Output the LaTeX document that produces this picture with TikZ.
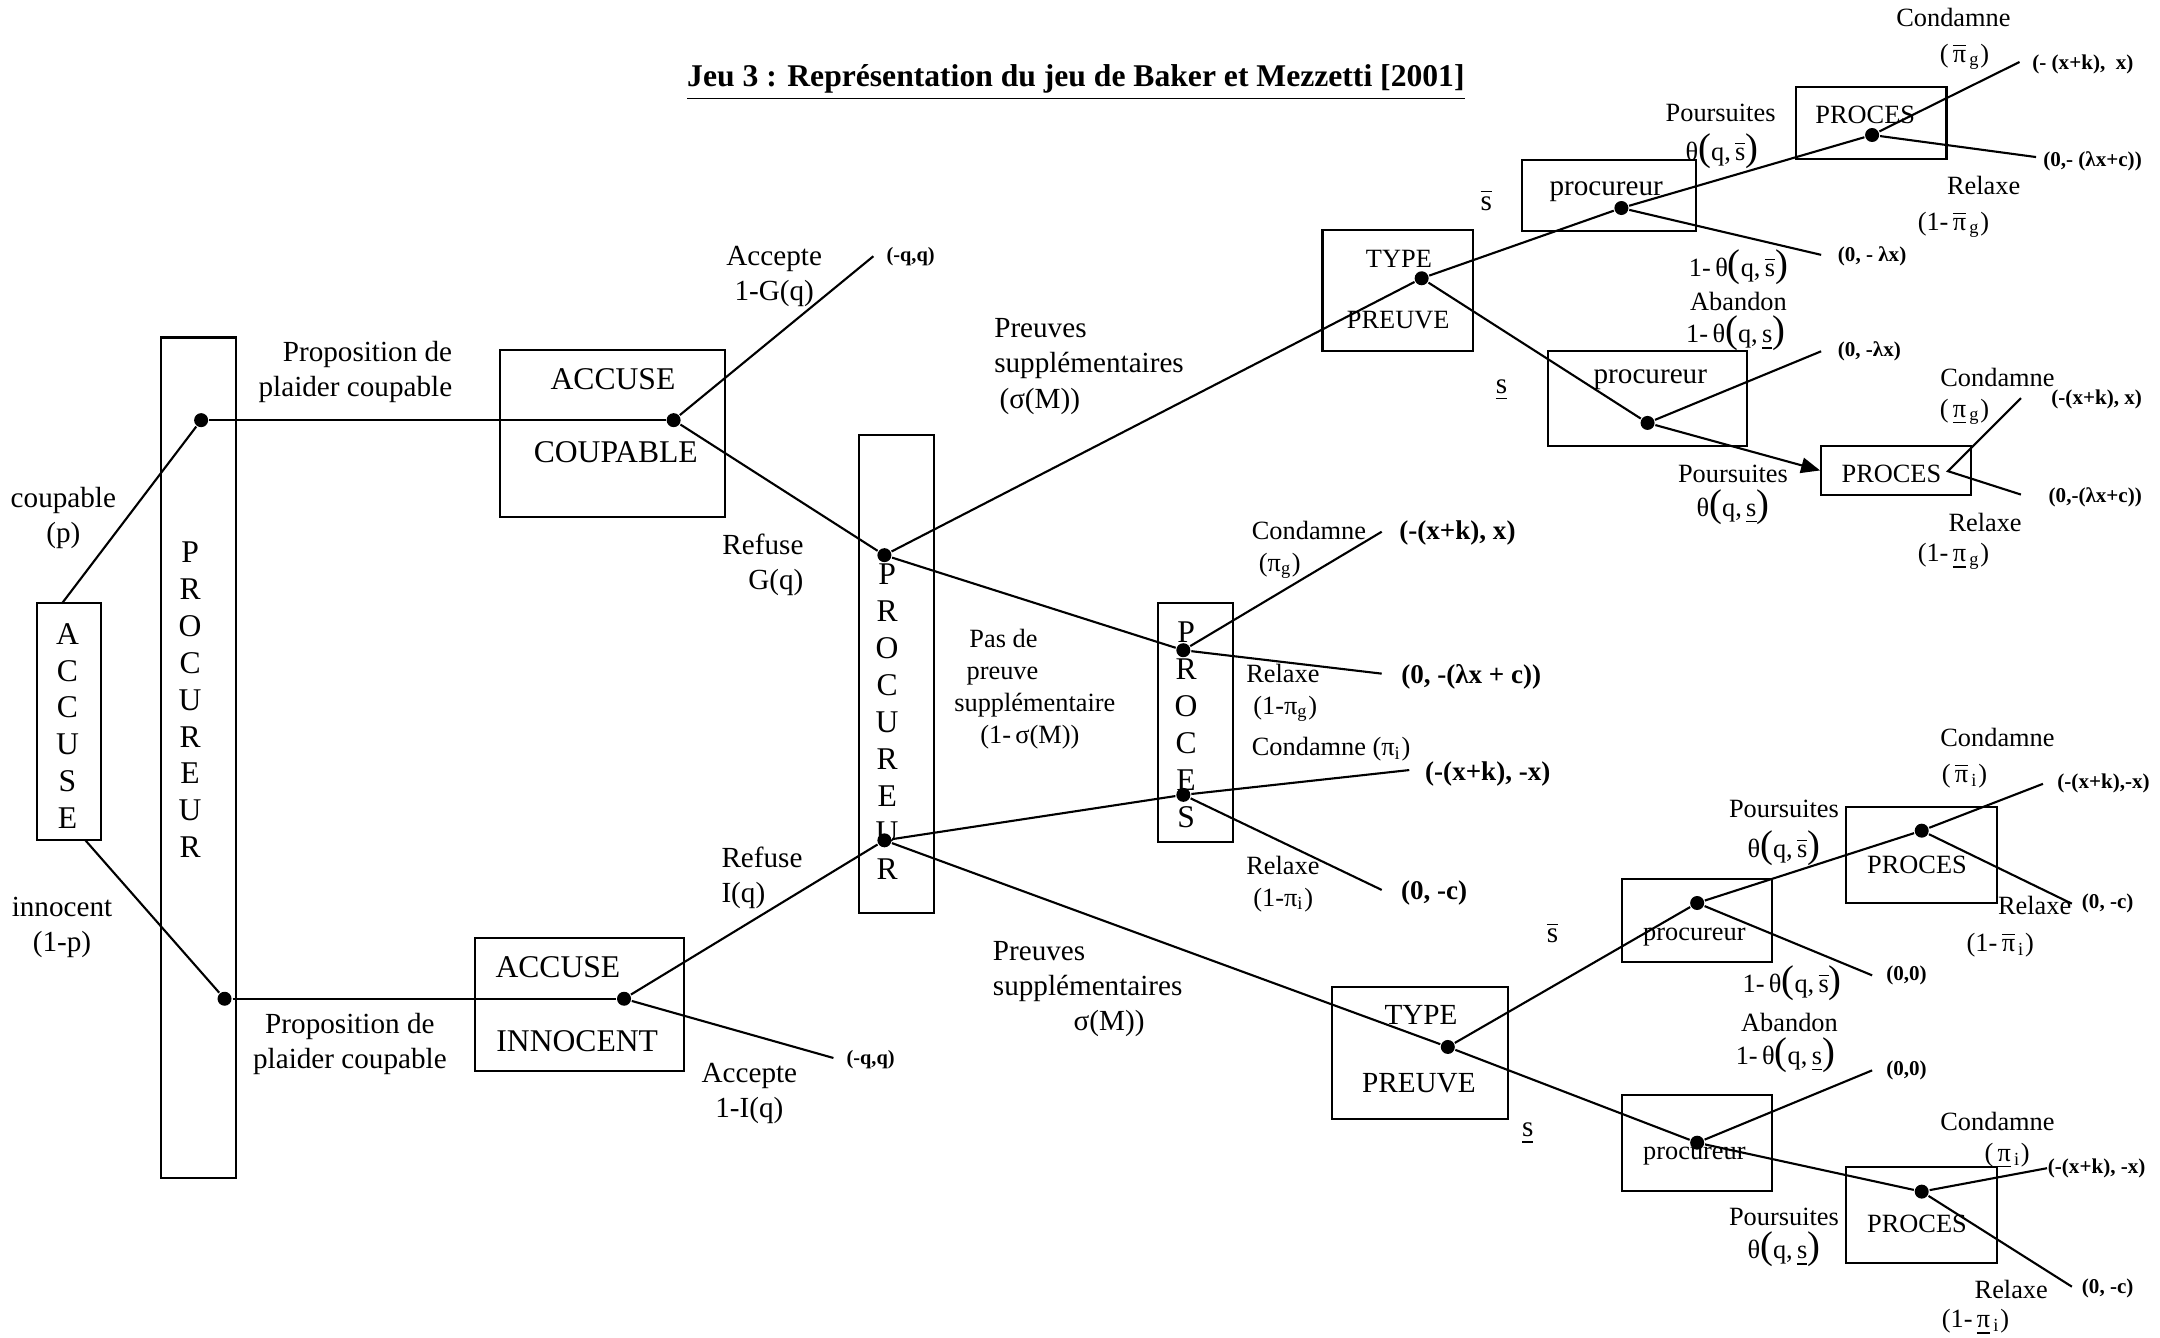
\documentclass[tikz,border=0pt]{standalone}
\usepackage{fontspec}
\setmainfont{Liberation Serif}
\usetikzlibrary{arrows.meta}

\newcommand{\dpx}{0.013776cm}
\newcommand{\sbar}{\ensuremath{\overline{\mbox{s}}}}
\newcommand{\pibar}{\ensuremath{\overline{\mbox{π}}}}
\newcommand{\lp}{{\fontsize{11}{11}\selectfont(}}
\newcommand{\rp}{{\fontsize{11}{11}\selectfont)}}

\tikzset{
	box/.style 2 args={draw, inner sep=0pt, minimum width=#1*\dpx, minimum height=#2*\dpx},
	dot/.style={circle, fill=black, inner sep=0pt, minimum size=0.14cm},
	lbl/.style={inner sep=0pt, font=\fontsize{8.3}{10}\selectfont},
	lblsm/.style={inner sep=0pt, font=\fontsize{7.5}{9.1}\selectfont},
	lblbig/.style={inner sep=0pt, font=\fontsize{9}{10.5}\selectfont},
	vletters/.style={inner sep=0pt, align=center, font=\fontsize{9}{10.5}\selectfont},
	paymid/.style={inner sep=0pt, font=\fontsize{7.7}{9}\selectfont\bfseries},
	payr/.style={inner sep=0pt, font=\fontsize{6}{7}\selectfont\bfseries},
}

\begin{document}
\begin{tikzpicture}[x=\dpx, y=-\dpx, line width=0.6pt]
				\useasboundingbox (0,0) rectangle (1568,971);

				\node[inner sep=0pt, font=\fontsize{9}{11}\selectfont\bfseries] (title) at (781,60) {\underline{Jeu 3 : Représentation du jeu de Baker et Mezzetti [2001]}};

				% nature
				\node[box={46}{172}] (accuse) at (50,524) {};
				\node[vletters] (accuseTxt) at (49,527) {A\\C\\C\\U\\S\\E};
				\node[lbl, align=center] (coupTxt) at (46,376) {coupable\\(p)};
				\node[lbl, align=center] (innoTxt) at (45,673) {innocent\\(1-p)};
				\coordinate (accT) at (45,438);
				\coordinate (accB) at (62,610);

				% procureur 1
				\node[box={54}{610}] (proc1) at (144,550) {};
				\node[vletters] (proc1Txt) at (138,508) {P\\R\\O\\C\\U\\R\\E\\U\\R};
				\node[dot] (pg) at (146,305) {};
				\node[dot] (pi) at (163,725) {};
				\node[lbl, align=right, anchor=east] (propG) at (329,270) {Proposition de\\plaider coupable};
				\node[lbl, align=center] (propI) at (254,758) {Proposition de\\plaider coupable};

				% accuse
				\node[box={163}{121}] (accG) at (444.5,314.5) {};
				\node[lblbig] (accGa) at (445,275) {ACCUSE};
				\node[lblbig] (accGb) at (447,328) {COUPABLE};
				\node[dot] (ag) at (489,305) {};
				\node[box={151.5}{96.5}] (accI) at (420.75,729.25) {};
				\node[lblbig] (accIa) at (405,702) {ACCUSE};
				\node[lblbig] (accIb) at (419,756) {INNOCENT};
				\node[dot] (ai) at (453,725) {};

				\coordinate (agEnd) at (634,186);
				\node[payr, font=\fontsize{5.8}{7}\selectfont\bfseries] (agPay) at (661,186) {(-q,q)};
				\node[lbl, align=center] (agAcc) at (562,201) {Accepte\\1-G(q)};
				\node[lbl, align=right, anchor=east] (agRef) at (584,410) {Refuse\\G(q)};
				\coordinate (aiEnd) at (605,768);
				\node[payr, font=\fontsize{5.8}{7}\selectfont\bfseries] (aiPay) at (632,769) {(-q,q)};
				\node[lbl, align=center] (aiAcc) at (544,794) {Accepte\\1-I(q)};
				\node[lbl, align=left, anchor=west] (aiRef) at (523,637) {Refuse\\I(q)};

				% procureur 2
				\node[box={54.5}{347}] (proc2) at (650.75,489.5) {};
				\node[vletters] (proc2Txt) at (644,524) {P\\R\\O\\C\\U\\R\\E\\U\\R};
				\node[dot] (p2g) at (642,403) {};
				\node[dot] (p2i) at (642,610) {};
				\node[lbl, align=left, anchor=west] (prvG) at (721,266) {Preuves\\supplémentaires\\\hspace*{1.5pt}(σ(M))};
				\node[lblsm, align=left, anchor=west] (noPrv) at (692,500) {\hspace*{4.3pt}Pas de\\\hspace*{3.5pt}preuve\\supplémentaire\\\hspace*{7.4pt}(1-\,σ(M))};
				\node[lbl, align=left, anchor=west] (prvI) at (720,718) {Preuves\\supplémentaires\\\hspace*{23pt}σ(M))};

				% proces
				\node[box={54.4}{173.5}] (procM) at (867.8,524.25) {};
				\node[vletters] (procMTxt) at (861,526) {P\\R\\O\\C\\E\\S};
				\node[dot] (mg) at (859,472) {};
				\node[dot] (mi) at (859,577) {};
				\node[lblsm, align=left, anchor=west] (mgCond) at (908,399) {Condamne\\\hspace*{2pt}(π\textsubscript{g})};
				\node[lblsm, align=left, anchor=west] (mgRel) at (904,503) {Relaxe\\\hspace*{2pt}(1-π\textsubscript{g})};
				\node[lblsm, anchor=west] (miCond) at (908,544) {Condamne (π\textsubscript{i})};
				\node[lblsm, align=left, anchor=west] (miRel) at (904,641.5) {Relaxe\\\hspace*{2pt}(1-π\textsubscript{i})};
				\coordinate (mgC) at (1003,386);
				\coordinate (mgR) at (1003,489);
				\coordinate (miC) at (1023,559);
				\coordinate (miR) at (1003,646);
				\node[paymid] (mgCpay) at (1058,387) {(-(x+k), x)};
				\node[paymid] (mgRpay) at (1068,491) {(0, -(λx + c))};
				\node[paymid] (miCpay) at (1080,562) {(-(x+k), -x)};
				\node[paymid] (miRpay) at (1041,648) {(0, -c)};

				% type de preuve, accuse coupable
				\node[box={109}{88}] (typeA) at (1014.5,211) {};
				\node[lblsm] (typeAa) at (1015.5,188) {TYPE};
				\node[lblsm] (typeAb) at (1015,232) {PREUVE};
				\node[dot] (tA) at (1032,202) {};
				\node[lbl] (sA) at (1079,145) {\sbar};
				\node[lbl] (sB) at (1090,283) {\underline{s}};

				\node[box={126}{51.5}] (procA) at (1168,141.75) {};
				\node[lbl] (procAt) at (1166,139) {procureur};
				\node[dot] (pA) at (1177,151) {};
				\node[lblsm] (pApours) at (1249,82) {Poursuites};
				\node[lblsm] (pAth) at (1250,110) {θ\lp q,\,\sbar\rp};
				\node[box={109}{52.5}] (procesA) at (1358.5,89.25) {};
				\node[lblsm] (procesAt) at (1354,83.5) {PROCES};
				\node[dot] (cA) at (1359,98) {};
				\coordinate (cAC) at (1466,45);
				\coordinate (cAR) at (1478,114);
				\node[payr] (cACpay) at (1512,47) {(- (x+k),\ \ x)};
				\node[payr] (cARpay) at (1519,117) {(0,- (λx+c))};
				\node[lblsm] (cAcond) at (1418,13) {Condamne};
				\node[lblsm] (cAcpi) at (1426,41) {(\,\pibar\textsubscript{\,g})};
				\node[lblsm] (cArel) at (1440,135) {Relaxe};
				\node[lblsm] (cArpi) at (1418,163) {(1-\,\pibar\textsubscript{\,g})};
				\coordinate (pAab) at (1322,185);
				\node[payr] (pAabpay) at (1359,186) {(0, - λx)};
				\node[lblsm] (pAth2) at (1262,194) {1-\,θ\lp q,\,\sbar\rp};
				\node[lblsm] (abandA) at (1262,219) {Abandon};
				\node[lblsm] (pBth2) at (1260,242) {1-\,θ\lp q,\,\underline{s}\rp};

				\node[box={144}{69}] (procB) at (1196,289.5) {};
				\node[lbl] (procBt) at (1198,276) {procureur};
				\node[dot] (pB) at (1196,307) {};
				\coordinate (pBab) at (1322,255);
				\node[payr] (pBabpay) at (1357,255) {(0, -λx)};
				\node[lblsm] (pBpours) at (1258,344) {Poursuites};
				\node[lblsm] (pBth) at (1258,368) {θ\lp q,\,\underline{s}\rp};
				\node[box={109}{35}] (procesB) at (1376.5,341.5) {};
				\node[lblsm] (procesBt) at (1373,344) {PROCES};
				\coordinate (vtx) at (1414,342);
				\coordinate (cBC) at (1467,289);
				\coordinate (cBR) at (1467,359);
				\node[lblsm] (cBcond) at (1450,274) {Condamne};
				\node[lblsm] (cBcpi) at (1426,299) {(\,\underline{π}\textsubscript{\,g})};
				\node[payr] (cBCpay) at (1522,290) {(-(x+k), x)};
				\node[payr] (cBRpay) at (1521,361) {(0,-(λx+c))};
				\node[lblsm] (cBrel) at (1441,379) {Relaxe};
				\node[lblsm] (cBrpi) at (1418,404) {(1-\,\underline{π}\textsubscript{\,g})};

				% type de preuve, accuse innocent
				\node[box={127.6}{95.5}] (typeB) at (1030.8,764.25) {};
				\node[lbl] (typeBa) at (1031.5,737) {TYPE};
				\node[lbl] (typeBb) at (1030,786) {PREUVE};
				\node[dot] (tB) at (1051,760) {};
				\node[lbl] (sC) at (1127,677) {\sbar};
				\node[lbl] (sD) at (1109,823) {\underline{s}};

				\node[box={108.5}{60}] (procC) at (1231.75,668) {};
				\node[lblsm] (procCt) at (1230,680) {procureur};
				\node[dot] (pC) at (1232,655.5) {};
				\coordinate (pCab) at (1359,708);
				\node[payr] (pCabpay) at (1384,708) {(0,0)};
				\node[lblsm] (pCpours) at (1295,587) {Poursuites};
				\node[lblsm] (pCth) at (1295,616) {θ\lp q,\,\sbar\rp};
				\node[box={109.6}{69.5}] (procesC) at (1394.8,620.75) {};
				\node[lblsm] (procesCt) at (1391.6,628) {PROCES};
				\node[dot] (cC) at (1395,603) {};
				\coordinate (cCC) at (1483,569);
				\coordinate (cCR) at (1504,656);
				\node[payr] (cCCpay) at (1527,569) {(-(x+k),-x)};
				\node[payr] (cCRpay) at (1530,656) {(0, -c)};
				\node[lblsm] (cCcond) at (1450,535) {Condamne};
				\node[lblsm] (cCcpi) at (1426,563) {(\,\pibar\textsubscript{\,i})};
				\node[lblsm] (cCrel) at (1477,657) {Relaxe};
				\node[lblsm] (cCrpi) at (1452,686) {(1-\,\pibar\textsubscript{\,i})};
				\node[lblsm] (pCth2) at (1301,714) {1-\,θ\lp q,\,\sbar\rp};
				\node[lblsm] (abandC) at (1299,742) {Abandon};
				\node[lblsm] (pDth2) at (1296,766) {1-\,θ\lp q,\,\underline{s}\rp};

				\node[box={108.5}{69.5}] (procD) at (1231.75,829.75) {};
				\node[lblsm] (procDt) at (1230,839) {procureur};
				\node[dot] (pD) at (1232,829.5) {};
				\coordinate (pDab) at (1359,777);
				\node[payr] (pDabpay) at (1384,777) {(0,0)};
				\node[lblsm] (pDpours) at (1295,883) {Poursuites};
				\node[lblsm] (pDth) at (1295,907) {θ\lp q,\,\underline{s}\rp};
				\node[box={109.6}{70}] (procesD) at (1394.8,882) {};
				\node[lblsm] (procesDt) at (1391.6,888.5) {PROCES};
				\node[dot] (cD) at (1395,865) {};
				\coordinate (cDC) at (1486,848);
				\coordinate (cDR) at (1504,934);
				\node[payr] (cDCpay) at (1522,848) {(-(x+k), -x)};
				\node[payr] (cDRpay) at (1530,935) {(0, -c)};
				\node[lblsm] (cDcond) at (1450,814) {Condamne};
				\node[lblsm] (cDcpi) at (1457,839) {(\,\underline{π}\textsubscript{\,i})};
				\node[lblsm] (cDrel) at (1460,936) {Relaxe};
				\node[lblsm] (cDrpi) at (1434,960) {(1-\,\underline{π}\textsubscript{\,i})};

				% branches
				\draw (accT) -- (pg);
				\draw (accB) -- (pi);
				\draw (pg) -- (ag);
				\draw (pi) -- (ai);
				\draw (ag) -- (agEnd);
				\draw (ag) -- (p2g);
				\draw (ai) -- (aiEnd);
				\draw (ai) -- (p2i);
				\draw (p2g) -- (tA);
				\draw (p2g) -- (mg);
				\draw (p2i) -- (mi);
				\draw (p2i) -- (tB);
				\draw (mg) -- (mgC);
				\draw (mg) -- (mgR);
				\draw (mi) -- (miC);
				\draw (mi) -- (miR);
				\draw (tA) -- (pA);
				\draw (tA) -- (pB);
				\draw (pA) -- (cA);
				\draw (pA) -- (pAab);
				\draw (cA) -- (cAC);
				\draw (cA) -- (cAR);
				\draw (pB) -- (pBab);
				\draw[-{Triangle[length=5.4pt,width=4.4pt]}] (pB) -- (procesB.west);
				\draw (cBC) -- (vtx) -- (cBR);
				\draw (tB) -- (pC);
				\draw (tB) -- (pD);
				\draw (pC) -- (cC);
				\draw (pC) -- (pCab);
				\draw (cC) -- (cCC);
				\draw (cC) -- (cCR);
				\draw (pD) -- (cD);
				\draw (pD) -- (pDab);
				\draw (cD) -- (cDC);
				\draw (cD) -- (cDR);
\end{tikzpicture}
\end{document}
